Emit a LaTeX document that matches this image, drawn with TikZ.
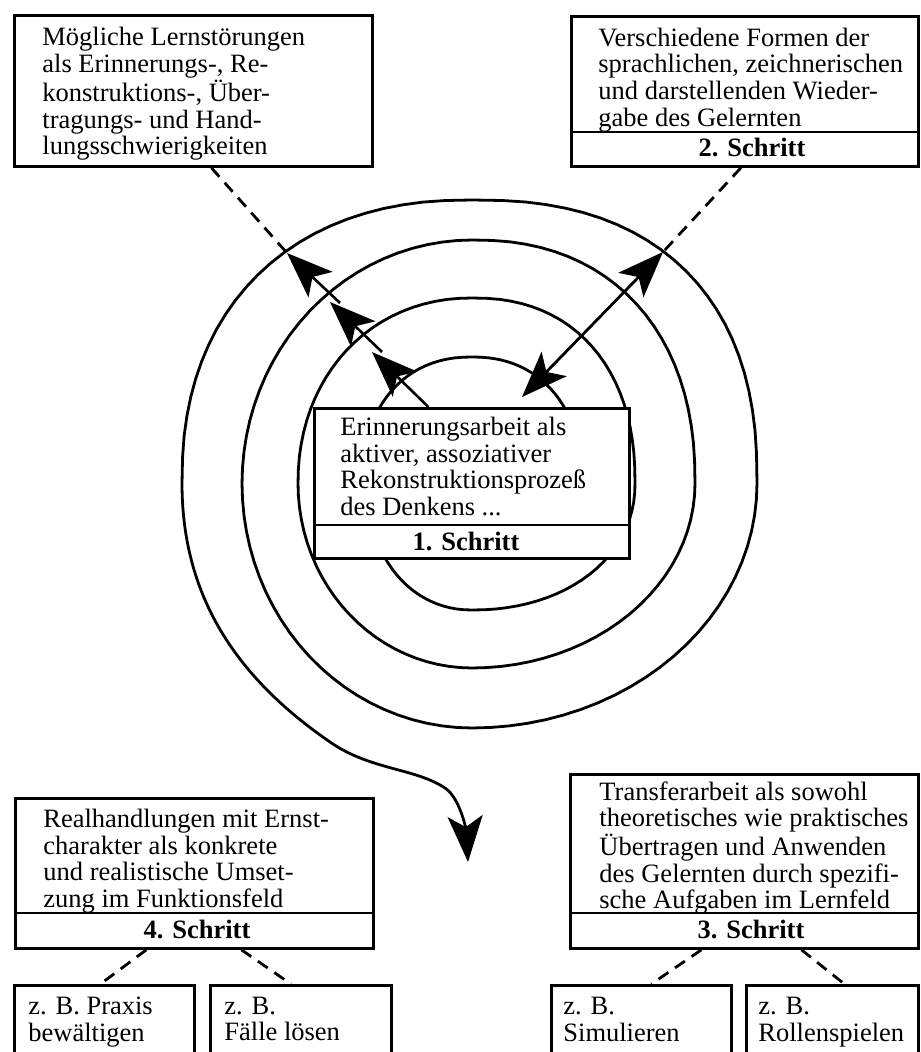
\documentclass[tikz,border=0pt]{standalone}
\usepackage{fontspec}
\setmainfont{Liberation Serif}
\usetikzlibrary{arrows.meta}
\begin{document}
\begin{tikzpicture}[x=0.5pt,y=-0.5pt,
  declare function={
    sx(\t,\e)=sign(cos(\t))*pow(max(abs(cos(\t)),0.0001),\e);
    sy(\t,\e)=sign(sin(\t))*pow(max(abs(sin(\t)),0.0001),\e);
  },
  >={Stealth[length=23pt,width=17.5pt,inset=5.5pt]},
  box/.style={draw,line width=1.4pt,fill=white,inner sep=0pt,anchor=north west},
  txt/.style={anchor=north west,inner sep=0pt,align=left,font=\fontsize{13.25}{13.3}\selectfont},
  lab/.style={anchor=base,inner sep=0pt,font=\fontsize{13.25}{13.3}\selectfont\bfseries},
  ln/.style={line width=1.4pt},
  dashl/.style={line width=1.4pt,dash pattern=on 6pt off 4pt},
  arr/.style={line width=1.3pt,->},
]
\useasboundingbox (0,0) rectangle (920,1052);
\clip (0,0) rectangle (920,1052);

% spiral
\draw[ln,->]
  plot[domain=350:270,samples=25,variable=\a] ({472+110*sx(\a,0.9)},{483.5+126.5*sy(\a,0.9)})
  -- plot[domain=270:180,samples=25,variable=\a] ({472+110*sx(\a,0.9)},{483.5+126.5*sy(\a,0.9)})
  -- plot[domain=180:90,samples=25,variable=\a] ({472+105*sx(\a,0.95)},{483.5+126.5*sy(\a,0.95)})
  -- plot[domain=90:0,samples=25,variable=\a] ({472+163*sx(\a,0.95)},{483.5+126.5*sy(\a,0.95)})
  -- plot[domain=0:-90,samples=25,variable=\a] ({472+163*sx(\a,0.88)},{483.5+185.5*sy(\a,0.88)})
  -- plot[domain=-90:-180,samples=25,variable=\a] ({472+174*sx(\a,0.95)},{483.5+185.5*sy(\a,0.95)})
  -- plot[domain=-180:-270,samples=25,variable=\a] ({472+174*sx(\a,1)},{483.5+184.5*sy(\a,1)})
  -- plot[domain=-270:-360,samples=25,variable=\a] ({472+223*sx(\a,1)},{483.5+184.5*sy(\a,1)})
  -- plot[domain=-360:-450,samples=25,variable=\a] ({472+223*sx(\a,0.88)},{483.5+243.5*sy(\a,0.88)})
  -- plot[domain=-450:-540,samples=25,variable=\a] ({472+230*sx(\a,1)},{483.5+243.5*sy(\a,1)})
  -- plot[domain=-540:-630,samples=25,variable=\a] ({472+230*sx(\a,1)},{483.5+244.5*sy(\a,1)})
  -- plot[domain=-630:-720,samples=25,variable=\a] ({472+285*sx(\a,1)},{483.5+244.5*sy(\a,1)})
  -- plot[domain=-720:-810,samples=25,variable=\a] ({472+285*sx(\a,0.83)},{483.5+283.5*sy(\a,0.83)})
  -- plot[domain=-810:-900,samples=25,variable=\a] ({472+290*sx(\a,0.88)},{483.5+283.5*sy(\a,0.88)})
  .. controls (182,600) and (240,680) .. (330,742)
  .. controls (370,770) and (415,768) .. (445,788)
  .. controls (460,798) and (466,830) .. (468,862);

% centre box
\node[box,minimum width=157.5pt,minimum height=75pt] (cb) at (313,407) {};
\draw[ln] (313,525) -- (628,525);
\node[txt] (cbt) at (340,417) {Erinnerungsarbeit als\\aktiver, assoziativer\\Rekonstruktionsprozeß\\des Denkens ...};
\node[lab] (cbs) at (466,550) {1. Schritt};

% top boxes
\node[box,minimum width=179pt,minimum height=75.5pt] (tl) at (13,14) {};
\node[txt] (tlt) at (42,27) {Mögliche Lernstörungen\\als Erinnerungs-, Re-\\konstruktions-, Über-\\tragungs- und Hand-\\lungsschwierigkeiten};

\node[box,minimum width=173.5pt,minimum height=75pt] (tr) at (570,15) {};
\draw[ln] (570,132) -- (917,132);
\node[txt] (trt) at (598,27.5) {Verschiedene Formen der\\sprachlichen, zeichnerischen\\und darstellenden Wieder-\\gabe des Gelernten};
\node[lab] (trs) at (752,157) {2. Schritt};

% arrow coordinates
\coordinate (a3t) at (372,352);
\coordinate (a2s) at (382,352);
\coordinate (a2t) at (330,302);
\coordinate (a1s) at (340,303);
\coordinate (a1t) at (287,253);
\coordinate (dl) at (522,397);
\coordinate (du) at (663,252);

% dashed connectors to top boxes
\draw[dashl] ([xshift=9pt]tl.south) -- (a1t);
\draw[dashl] ([xshift=-2pt]tr.south) -- (du);

% arrows
\draw[arr] ([xshift=-21.75pt]cb.north) -- (a3t);
\draw[arr] (a2s) -- (a2t);
\draw[arr] (a1s) -- (a1t);
\draw[ln,<->] (dl) -- (du);

% bottom boxes
\node[box,minimum width=179pt,minimum height=75pt] (bl) at (14,797) {};
\draw[ln] (14,913) -- (372,913);
\node[txt] (blt) at (43,809) {Realhandlungen mit Ernst-\\charakter als konkrete\\und realistische Umset-\\zung im Funktionsfeld};
\node[lab] (bls) at (197,938) {4. Schritt};

\node[box,minimum width=174pt,minimum height=87pt] (br) at (569,773) {};
\draw[ln] (569,913) -- (917,913);
\node[txt] (brt) at (599,781) {Transferarbeit als sowohl\\theoretisches wie praktisches\\Übertragen und Anwenden\\des Gelernten durch spezifi-\\sche Aufgaben im Lernfeld};
\node[lab] (brs) at (751,938) {3. Schritt};

% small boxes
\node[box,minimum width=90pt,minimum height=50pt] (s1) at (13,984) {};
\node[box,minimum width=90.5pt,minimum height=50pt] (s2) at (209,984) {};
\node[box,minimum width=90pt,minimum height=50pt] (s3) at (550,984) {};
\node[box,minimum width=86pt,minimum height=50pt] (s4) at (745,984) {};
\node[txt] (s1t) at (28,996.5) {z. B. Praxis\\bewältigen};
\node[txt] (s2t) at (224,996.5) {z. B.\\Fälle lösen};
\node[txt] (s3t) at (563,997) {z. B.\\Simulieren};
\node[txt] (s4t) at (758,997) {z. B.\\Rollenspielen};

\draw[dashl] ([xshift=-24pt]bl.south) -- ([xshift=-2pt]s1.north);
\draw[dashl] ([xshift=23.5pt]bl.south) -- ([xshift=-5pt]s2.north);
\draw[dashl] ([xshift=-21.5pt]br.south) -- ([xshift=5pt]s3.north);
\draw[dashl] ([xshift=28.5pt]br.south) -- ([xshift=6pt]s4.north);
\end{tikzpicture}
\end{document}
